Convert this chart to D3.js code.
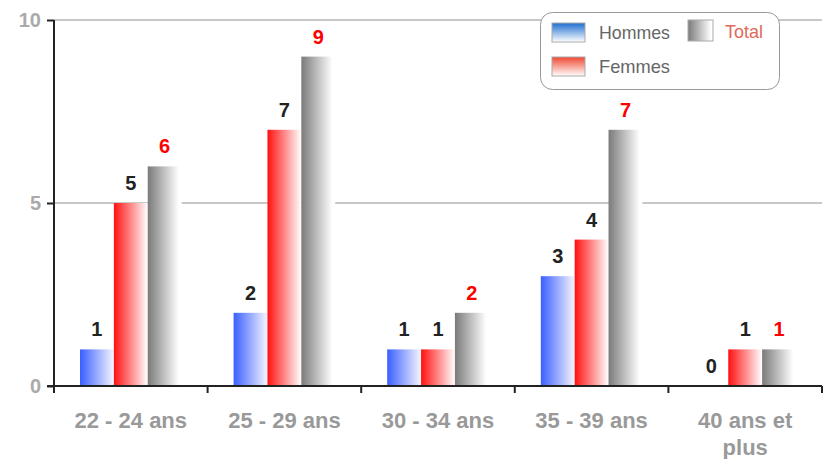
<!DOCTYPE html>
<html lang="fr">
  <head>
    <meta charset="utf-8">
    <script type="text/javascript" src="https://d3js.org/d3.v7.min.js"></script>
    <style type="text/css">
      body { margin: 0; background: white; }
      text { font-family: "Liberation Sans", Arial, sans-serif; }
    </style>
  </head>
  <body>
    <script type="text/javascript">
      // data
      var categories = ["22 - 24 ans", "25 - 29 ans", "30 - 34 ans", "35 - 39 ans", "40 ans et plus"];
      var hommes = [1, 2, 1, 3, 0];
      var femmes = [5, 7, 1, 4, 1];
      var total = [6, 9, 2, 7, 1];
      var yTicks = [0, 5, 10];

      var w = 832, h = 459;
      var mLeft = 54, mRight = 822, mTop = 20, mBottom = 386;

      var svg = d3.select("body").append("svg").attr("width", w).attr("height", h);
      var defs = svg.append("defs");

      // horizontal gradients for the bars
      function hGrad(id, c, end, stop) {
        var g = defs.append("linearGradient").attr("id", id)
          .attr("x1", "0%").attr("x2", "100%").attr("y1", "0%").attr("y2", "0%");
        g.append("stop").attr("offset", "0%").attr("stop-color", c);
        g.append("stop").attr("offset", stop).attr("stop-color", end);
      }
      hGrad("gBlue", "#3a5fff", "#f6f6ff", "100%");
      hGrad("gRed", "#ff1010", "#ffffff", "100%");
      hGrad("gGray", "#7a7a7a", "#ffffff", "92%");

      // vertical gradients for the legend swatches
      function vGrad(id, c) {
        var g = defs.append("linearGradient").attr("id", id)
          .attr("x1", "0%").attr("x2", "0%").attr("y1", "0%").attr("y2", "100%");
        g.append("stop").attr("offset", "0%").attr("stop-color", c);
        g.append("stop").attr("offset", "100%").attr("stop-color", "#ffffff");
      }
      vGrad("lBlue", "#1f6fd0");
      vGrad("lRed", "#f04830");

      var x = d3.scaleBand().domain(categories).range([mLeft, mRight]);
      var series = ["hommes", "femmes", "total"];
      var xs = d3.scaleBand().domain(series).range([26, x.bandwidth() - 26]);
      var y = d3.scaleLinear().domain([0, 10]).range([mBottom, mTop]);

      // gridlines
      svg.append("g").selectAll("line")
        .data(yTicks.filter(function(d) { return d > 0; }))
        .enter().append("line")
        .attr("x1", mLeft).attr("x2", mRight)
        .attr("y1", function(d) { return y(d); })
        .attr("y2", function(d) { return y(d); })
        .attr("stroke", "#c8c8c8").attr("stroke-width", 2);

      // bars
      var fills = { hommes: "url(#gBlue)", femmes: "url(#gRed)", total: "url(#gGray)" };
      var values = { hommes: hommes, femmes: femmes, total: total };
      var groups = svg.append("g").selectAll("g")
        .data(categories).enter().append("g")
        .attr("transform", function(d) { return "translate(" + x(d) + ",0)"; });

      series.forEach(function(s) {
        groups.append("rect")
          .attr("x", xs(s))
          .attr("width", xs.bandwidth())
          .attr("y", function(d, i) { return y(values[s][i]); })
          .attr("height", function(d, i) { return mBottom - y(values[s][i]); })
          .attr("fill", fills[s]);
        groups.append("text")
          .attr("x", xs(s) + xs.bandwidth() / 2)
          .attr("y", function(d, i) { return y(values[s][i]) - 13; })
          .attr("text-anchor", "middle")
          .attr("font-size", 20).attr("font-weight", "bold")
          .attr("fill", s == "total" ? "#ff0000" : "#222")
          .text(function(d, i) { return values[s][i]; });
      });

      // y axis
      var yAxis = svg.append("g")
        .attr("transform", "translate(" + mLeft + ",0)")
        .call(d3.axisLeft(y).tickValues(yTicks).tickSize(7).tickPadding(6));
      yAxis.select(".domain").attr("stroke", "#222").attr("stroke-width", 2)
        .attr("d", "M0," + mTop + "V" + mBottom);
      yAxis.selectAll(".tick line").attr("stroke", "#222").attr("stroke-width", 2);
      yAxis.selectAll(".tick text")
        .attr("font-size", 20).attr("font-weight", "bold")
        .attr("fill", "#aaaaaa").attr("font-family", "Liberation Sans, Arial, sans-serif");

      // x axis
      var xAxis = svg.append("g").attr("transform", "translate(0," + mBottom + ")");
      xAxis.append("line").attr("x1", mLeft - 7).attr("x2", mRight)
        .attr("stroke", "#222").attr("stroke-width", 2);
      var bounds = categories.map(function(c) { return x(c); }).concat([mRight]);
      xAxis.selectAll(".xt").data(bounds).enter().append("line")
        .attr("x1", function(d) { return d; }).attr("x2", function(d) { return d; })
        .attr("y1", 0).attr("y2", 7)
        .attr("stroke", "#222").attr("stroke-width", 2);

      // category labels (wrapping the long one)
      var labels = xAxis.selectAll(".xl").data(categories).enter().append("text")
        .attr("x", function(d) { return x(d) + x.bandwidth() / 2; })
        .attr("y", 42)
        .attr("text-anchor", "middle")
        .attr("font-size", 22).attr("font-weight", "bold")
        .attr("fill", "#999999");
      labels.each(function(d) {
        var t = d3.select(this);
        var lines = d == "40 ans et plus" ? ["40 ans et", "plus"] : [d];
        lines.forEach(function(l, i) {
          t.append("tspan").attr("x", x(d) + x.bandwidth() / 2)
            .attr("dy", i == 0 ? 0 : 27).text(l);
        });
      });

      // legend
      var lg = svg.append("g").attr("transform", "translate(540,12)");
      lg.append("rect").attr("x", 0.5).attr("y", 0.5).attr("width", 239).attr("height", 77)
        .attr("rx", 12).attr("fill", "white").attr("stroke", "#999").attr("stroke-width", 1);
      lg.append("rect").attr("x", 12).attr("y", 11).attr("width", 33).attr("height", 19)
        .attr("fill", "url(#lBlue)").attr("stroke", "#aaa");
      lg.append("rect").attr("x", 12).attr("y", 45).attr("width", 33).attr("height", 19)
        .attr("fill", "url(#lRed)").attr("stroke", "#aaa");
      lg.append("rect").attr("x", 148).attr("y", 8).attr("width", 25).attr("height", 21)
        .attr("fill", "url(#gGray)").attr("stroke", "#aaa");
      var legText = [
        { t: "Hommes", x: 59, y: 27, c: "#666" },
        { t: "Femmes", x: 59, y: 61, c: "#666" },
        { t: "Total", x: 185, y: 26, c: "#e06a5a" }
      ];
      lg.selectAll(".lt").data(legText).enter().append("text")
        .attr("x", function(d) { return d.x; })
        .attr("y", function(d) { return d.y; })
        .attr("font-size", 19).attr("fill", function(d) { return d.c; })
        .attr("font-family", "Roboto, Liberation Sans, sans-serif")
        .attr("textLength", function(d) { return d.t == "Total" ? 38 : 71; })
        .attr("lengthAdjust", "spacingAndGlyphs")
        .text(function(d) { return d.t; });
    </script>
  </body>
</html>
